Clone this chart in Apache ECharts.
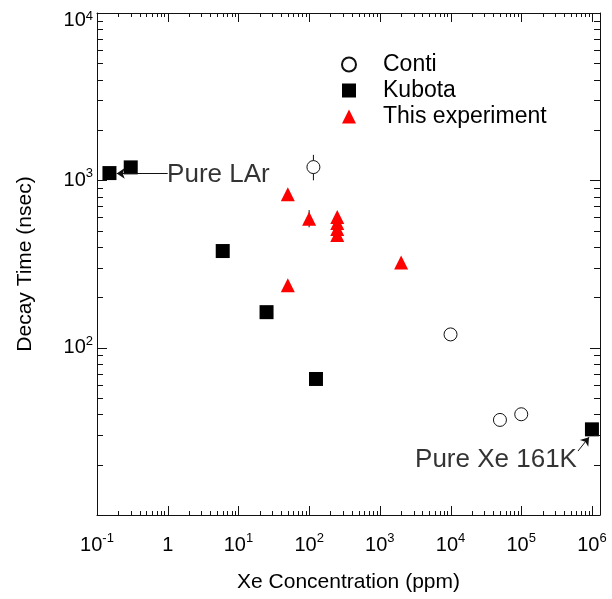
<!DOCTYPE html>
<html>
<head>
<meta charset="utf-8">
<script src="https://cdn.jsdelivr.net/npm/echarts@6/dist/echarts.min.js"></script>
<style>
  html, body { margin: 0; padding: 0; background: #fff; }
  #chart { width: 612px; height: 599px; }
</style>
</head>
<body>
<div id="chart"></div>
<script>
// values (x: Xe ppm, y: decay time nsec)
var contiX = [115, 1e4, 5e4, 1e5];
var contiY = [1200, 120, 37, 40];
var contiErr = [[115, 1000, 1420]];

var kubotaX = [0.15, 0.3, 6, 25, 125, 1e6];
var kubotaY = [1105, 1195, 378, 163, 65, 32.5];

var expX = [50, 100, 250, 250, 250, 250, 2000, 50];
var expY = [826, 589, 604, 556, 512, 471, 323, 236];
var expErr = [[100, 524, 664]];

// axis extents and ticks
var xRange = [0.1, 1.3e6];
var yRange = [10, 1e4];
var xDecades = [-1, 0, 1, 2, 3, 4, 5, 6];
var yDecades = [1, 2, 3, 4];
var minorSteps = [2, 3, 4, 5, 6, 7, 8, 9];

var FONT = 'Liberation Sans';
var INK = '#111';

function zip(xs, ys) {
  return xs.map(function (x, i) { return [x, ys[i]]; });
}

function powLabel(value, top) {
  var lg = Math.log10(value);
  var e = Math.round(lg);
  if (Math.abs(lg - e) > 1e-6) return '';
  if (e === 0) return '{b|1}';
  if (top) return '{t|10}{ts|' + e + '}';
  return '{b|10}{s|' + e + '}';
}

function richStyles() {
  return {
    b: { fontFamily: FONT, fontSize: 20, color: '#000', lineHeight: 26 },
    s: { fontFamily: FONT, fontSize: 13, color: '#000', lineHeight: 14, verticalAlign: 'top' },
    t: { fontFamily: FONT, fontSize: 20, color: '#000', lineHeight: 26, padding: [14, 0, 0, 0] },
    ts: { fontFamily: FONT, fontSize: 13, color: '#000', lineHeight: 14, verticalAlign: 'top', padding: [10, 0, 0, 0] }
  };
}

function lineOpt() {
  return { show: true, lineStyle: { color: INK, width: 1 } };
}

function errSeries(data) {
  return {
    type: 'custom',
    silent: true,
    z: 1,
    data: data,
    renderItem: function (params, api) {
      var a = api.coord([api.value(0), api.value(1)]);
      var b = api.coord([api.value(0), api.value(2)]);
      return {
        type: 'line',
        shape: { x1: a[0], y1: a[1], x2: b[0], y2: b[1] },
        style: { stroke: INK, lineWidth: 1 }
      };
    }
  };
}

var chart = echarts.init(document.getElementById('chart'));
chart.setOption({
  animation: false,
  backgroundColor: '#fff',
  grid: { left: 97, right: 12, top: 13, bottom: 84, outerBoundsMode: 'none' },
  legend: {
    data: ['Conti', 'Kubota', 'This experiment'],
    orient: 'vertical',
    left: 336,
    top: 48,
    itemWidth: 14,
    itemHeight: 14,
    itemGap: 3,
    textStyle: { fontFamily: FONT, fontSize: 23, color: '#000', lineHeight: 20, padding: [0, 0, 0, 22] }
  },
  xAxis: [{
    type: 'log',
    min: xRange[0],
    max: xRange[1],
    axisLine: lineOpt(),
    splitLine: { show: false },
    axisTick: { show: false },
    axisLabel: { margin: 17, formatter: function (v) { return powLabel(v); }, rich: richStyles() },
    name: 'Xe Concentration (ppm)',
    nameLocation: 'middle',
    nameGap: 57,
    nameTextStyle: { fontFamily: FONT, fontSize: 21, color: '#000' }
  }, {
    type: 'log',
    min: xRange[0],
    max: xRange[1],
    position: 'top',
    axisLine: lineOpt(),
    splitLine: { show: false },
    axisTick: { show: false },
    axisLabel: { show: false }
  }],
  yAxis: [{
    type: 'log',
    min: yRange[0],
    max: yRange[1],
    axisLine: lineOpt(),
    splitLine: { show: false },
    axisTick: { show: false },
    axisLabel: {
      margin: 4,
      formatter: function (v) {
        if (Math.abs(v - 10) < 1e-6) return '';
        return powLabel(v, Math.abs(v - 1e4) < 1e-3);
      },
      rich: richStyles()
    },
    name: 'Decay Time (nsec)',
    nameLocation: 'middle',
    nameGap: 61,
    nameTextStyle: { fontFamily: FONT, fontSize: 21, color: '#000' }
  }, {
    type: 'log',
    min: yRange[0],
    max: yRange[1],
    position: 'right',
    axisLine: lineOpt(),
    splitLine: { show: false },
    axisTick: { show: false },
    axisLabel: { show: false }
  }],
  series: [
    errSeries(contiErr),
    errSeries(expErr),
    {
      name: 'Conti',
      type: 'scatter',
      symbol: 'circle',
      symbolSize: 13,
      z: 3,
      itemStyle: { color: '#fff', borderColor: INK, borderWidth: 1, opacity: 1 },
      data: zip(contiX, contiY)
    },
    {
      name: 'Kubota',
      type: 'scatter',
      symbol: 'rect',
      symbolSize: 14,
      z: 3,
      itemStyle: { color: '#000', opacity: 1 },
      data: zip(kubotaX, kubotaY),
      markLine: {
        silent: true,
        animation: false,
        symbol: ['none', 'arrow'],
        symbolSize: 8,
        label: { show: false },
        lineStyle: { color: INK, width: 1, type: 'solid', opacity: 1 },
        data: [
          [{ coord: [1, 1100] }, { coord: [0.19, 1100] }],
          [{ coord: [6.35e5, 24.1] }, { coord: [9.1e5, 29.2] }]
        ]
      }
    },
    {
      name: 'This experiment',
      type: 'scatter',
      symbol: 'triangle',
      symbolSize: 14,
      z: 3,
      itemStyle: { color: '#ff0000', opacity: 1 },
      data: zip(expX, expY)
    },
    // annotation texts
    {
      type: 'scatter',
      silent: true,
      symbolSize: 0,
      label: {
        show: true,
        position: 'right',
        distance: 0,
        fontFamily: FONT,
        fontSize: 26,
        color: '#000',
        formatter: '{b}'
      },
      data: [
        { name: 'Pure LAr', value: [0.98, 1075] },
        { name: 'Pure Xe 161K', value: [3150, 21.5] }
      ]
    }
  ]
});

// inward ticks on all four sides, placed through the chart's own scales
function px(x, y) {
  return chart.convertToPixel({ xAxisIndex: 0, yAxisIndex: 0 }, [x, y]);
}
function tick(x1, y1, x2, y2) {
  return {
    type: 'line',
    silent: true,
    z: 100,
    shape: { x1: x1, y1: y1, x2: x2, y2: y2 },
    style: { stroke: INK, lineWidth: 1 }
  };
}
var ticks = [];
function xTick(v, len) {
  var b = px(v, yRange[0]);
  var t = px(v, yRange[1]);
  var x = Math.round(b[0]) + 0.5;
  ticks.push(tick(x, b[1], x, b[1] - len));
  ticks.push(tick(x, t[1], x, t[1] + len));
}
function yTick(v, len) {
  var l = px(xRange[0], v);
  var r = px(xRange[1], v);
  var y = Math.round(l[1]) + 0.5;
  ticks.push(tick(l[0], y, l[0] + len, y));
  ticks.push(tick(r[0], y, r[0] - len, y));
}
xDecades.forEach(function (d) {
  var base = Math.pow(10, d);
  xTick(base, 9);
  minorSteps.forEach(function (m) {
    if (m * base < xRange[1]) xTick(m * base, 4);
  });
});
yDecades.forEach(function (d) {
  var base = Math.pow(10, d);
  yTick(base, 10);
  minorSteps.forEach(function (m) {
    if (m * base < yRange[1]) yTick(m * base, 6);
  });
});
chart.setOption({ graphic: { elements: ticks } });
</script>
</body>
</html>
